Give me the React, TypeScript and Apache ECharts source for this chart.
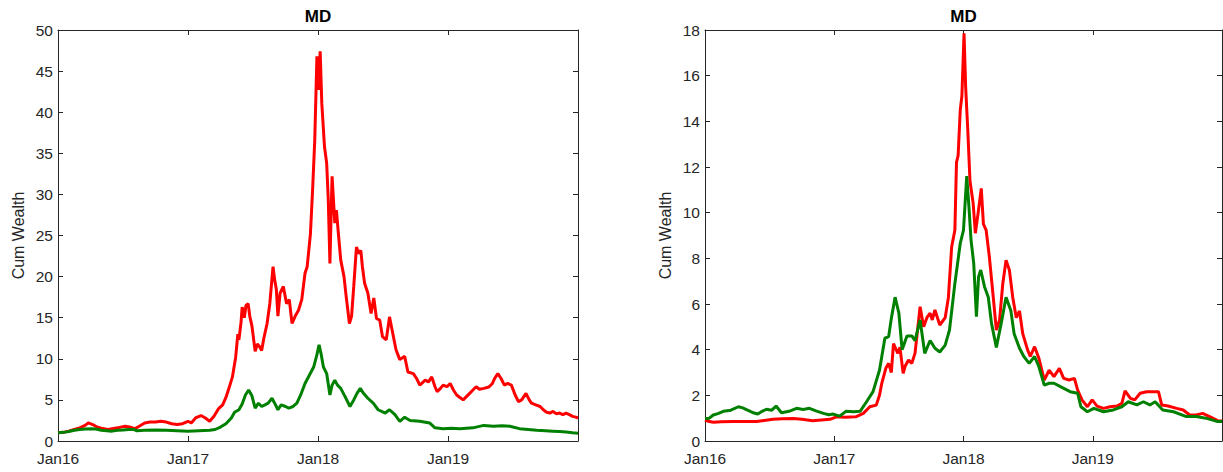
import React, { useEffect, useRef } from "react";
import * as echarts from "echarts";

// x = months since Jan 2016
const yearLabels = ["Jan16", "Jan17", "Jan18", "Jan19"];
const leftTicks = [0, 5, 10, 15, 20, 25, 30, 35, 40, 45, 50];
const rightTicks = [0, 2, 4, 6, 8, 10, 12, 14, 16, 18];

const leftRed: [number, number][] = [
  [0, 1.0], [0.5, 1.05], [1, 1.2], [1.5, 1.4], [2, 1.6], [2.5, 1.9], [2.8, 2.2], [3.2, 2.0], [3.6, 1.7], [4, 1.55],
  [4.6, 1.4], [5, 1.5], [5.5, 1.6], [6, 1.75], [6.2, 1.8], [6.6, 1.7], [7.1, 1.5], [7.5, 1.8], [8, 2.2], [8.5, 2.3],
  [9, 2.3], [9.5, 2.4], [10, 2.3], [10.5, 2.1], [11, 2.0], [11.5, 2.1], [12, 2.4], [12.3, 2.2], [12.7, 2.8], [13.2, 3.1],
  [13.6, 2.8], [14, 2.4], [14.4, 3.0], [14.8, 3.9], [15.2, 4.4], [15.5, 5.3], [15.8, 6.5], [16.1, 7.8], [16.4, 10.2],
  [16.6, 13.0], [16.7, 12.3], [16.9, 14.5], [17.0, 16.3], [17.2, 15.0], [17.35, 16.5], [17.55, 16.7], [17.7, 15.2],
  [17.9, 14.0], [18.2, 10.9], [18.4, 11.8], [18.6, 11.5], [18.8, 11.0], [19.0, 12.5], [19.3, 14.3], [19.55, 16.7],
  [19.85, 21.2], [20.0, 19.6], [20.15, 18.5], [20.3, 15.2], [20.5, 18.0], [20.8, 18.8], [21.1, 16.7], [21.35, 17.2],
  [21.6, 14.3], [21.9, 15.2], [22.2, 15.9], [22.5, 17.2], [22.8, 20.4], [23.0, 21.2], [23.3, 25.2], [23.5, 30.5],
  [23.7, 36.6], [23.9, 46.8], [24.05, 42.7], [24.2, 47.4], [24.35, 41.1], [24.6, 35.8], [24.8, 33.8], [24.95, 29.3],
  [25.1, 21.6], [25.3, 32.2], [25.55, 26.5], [25.7, 28.1], [25.85, 25.7], [26.1, 22.0], [26.4, 20.0], [26.6, 17.6],
  [26.9, 14.3], [27.1, 15.2], [27.3, 18.8], [27.55, 23.6], [27.75, 22.8], [27.95, 23.2], [28.1, 21.2], [28.3, 19.2],
  [28.6, 18.0], [28.9, 15.5], [29.15, 17.4], [29.4, 14.9], [29.7, 14.7], [29.95, 12.7], [30.3, 12.3], [30.6, 15.1],
  [30.9, 13.1], [31.2, 11.1], [31.55, 9.9], [32.0, 10.3], [32.3, 8.4], [32.8, 8.2], [33.1, 7.6], [33.4, 6.8],
  [33.9, 7.4], [34.2, 7.2], [34.5, 7.8], [34.8, 6.6], [35.0, 6.0], [35.3, 6.4], [35.55, 6.8], [35.9, 6.6], [36.2, 7.0],
  [36.5, 6.2], [36.8, 5.6], [37.1, 5.3], [37.4, 5.0], [37.7, 5.4], [38.0, 5.8], [38.3, 6.2], [38.6, 6.6], [38.9, 6.3],
  [39.3, 6.4], [39.6, 6.5], [39.8, 6.6], [40.1, 7.0], [40.3, 7.6], [40.6, 8.2], [40.9, 7.6], [41.2, 6.8], [41.5, 7.0],
  [41.85, 6.8], [42.2, 5.6], [42.5, 4.8], [42.8, 5.0], [43.2, 5.8], [43.5, 5.0], [43.7, 4.6], [44.1, 4.4], [44.5, 4.2],
  [44.8, 3.8], [45.1, 3.5], [45.4, 3.4], [45.7, 3.6], [46.0, 3.3], [46.3, 3.4], [46.6, 3.2], [46.9, 3.4], [47.2, 3.2],
  [47.5, 3.0], [47.8, 2.9], [48, 2.8],
];

const leftGreen: [number, number][] = [
  [0, 1.0], [0.5, 1.05], [1, 1.15], [1.5, 1.3], [2, 1.4], [2.5, 1.45], [3, 1.5], [3.5, 1.45], [4, 1.3], [4.5, 1.25],
  [5, 1.2], [5.5, 1.3], [6, 1.35], [6.5, 1.4], [7, 1.4], [7.3, 1.25], [8, 1.3], [9, 1.35], [10, 1.3], [11, 1.25],
  [12, 1.2], [13, 1.25], [14, 1.3], [14.5, 1.4], [15, 1.7], [15.5, 2.1], [16, 2.8], [16.3, 3.5], [16.7, 3.8],
  [17.0, 4.5], [17.3, 5.6], [17.6, 6.2], [17.9, 5.5], [18.2, 4.0], [18.5, 4.6], [18.8, 4.2], [19.1, 4.4], [19.4, 4.6],
  [19.75, 5.2], [20.0, 4.6], [20.3, 3.8], [20.6, 4.4], [21.0, 4.2], [21.3, 4.0], [21.7, 4.2], [22.05, 4.6], [22.4, 5.6],
  [22.8, 7.0], [23.2, 8.0], [23.6, 9.0], [23.9, 10.5], [24.1, 11.7], [24.3, 10.5], [24.5, 9.0], [24.8, 8.2],
  [25.1, 5.6], [25.3, 6.8], [25.55, 7.4], [25.8, 6.8], [26.1, 6.4], [26.5, 5.4], [26.95, 4.2], [27.3, 5.0],
  [27.6, 5.8], [27.9, 6.4], [28.2, 5.8], [28.6, 5.2], [29.1, 4.6], [29.55, 3.8], [30.2, 3.4], [30.6, 3.8],
  [31.1, 3.2], [31.55, 2.4], [32.0, 2.9], [32.5, 2.5], [33.4, 2.4], [34.3, 2.2], [34.8, 1.6], [35.55, 1.5],
  [36.3, 1.55], [37.1, 1.5], [38.3, 1.6], [39.3, 1.9], [40.2, 1.8], [41.0, 1.85], [41.7, 1.8], [42.6, 1.5],
  [43.4, 1.4], [44.2, 1.3], [45.0, 1.25], [45.7, 1.2], [46.3, 1.15], [46.9, 1.1], [47.5, 1.0], [48, 0.95],
];

const rightRed: [number, number][] = [
  [0, 0.92], [0.4, 0.85], [0.8, 0.82], [1.5, 0.84], [2.6, 0.85], [3.5, 0.85], [4.8, 0.85], [5.5, 0.9], [6.3, 0.95],
  [7.2, 0.97], [8.2, 0.99], [9.0, 0.95], [10.0, 0.89], [10.8, 0.92], [11.6, 0.95], [12.2, 1.06], [13.0, 1.04],
  [14.0, 1.06], [14.7, 1.21], [15.3, 1.5], [15.9, 1.57], [16.2, 2.0], [16.4, 2.5], [16.8, 3.2], [17.05, 3.4],
  [17.3, 3.0], [17.5, 4.27], [17.9, 3.84], [18.1, 4.1], [18.4, 2.96], [18.6, 3.3], [18.9, 3.55], [19.2, 3.4],
  [19.5, 3.85], [19.97, 5.88], [20.3, 5.0], [20.6, 5.4], [20.9, 5.6], [21.1, 5.3], [21.35, 5.74], [21.8, 5.08],
  [22.3, 5.4], [22.6, 6.3], [22.9, 8.5], [23.2, 9.24], [23.35, 12.2], [23.5, 12.5], [23.7, 14.5], [23.85, 15.1],
  [24.05, 17.86], [24.2, 15.5], [24.4, 13.6], [24.6, 11.4], [24.9, 10.4], [25.1, 9.1], [25.35, 9.96], [25.65, 11.06],
  [25.85, 9.5], [26.1, 9.24], [26.4, 8.07], [26.7, 6.61], [27.05, 4.86], [27.35, 5.3], [27.65, 6.9], [27.95, 7.92],
  [28.26, 7.49], [28.57, 6.3], [28.9, 5.4], [29.2, 5.7], [29.5, 4.7], [29.95, 3.99], [30.2, 3.7], [30.6, 4.13],
  [31.0, 3.62], [31.5, 2.67], [31.95, 3.1], [32.4, 2.82], [32.9, 3.18], [33.3, 2.74], [33.8, 2.67], [34.3, 2.74],
  [34.6, 2.23], [35.0, 1.8], [35.5, 1.5], [35.95, 1.8], [36.4, 1.53], [37.0, 1.43], [37.6, 1.5], [38.25, 1.53],
  [38.7, 1.65], [39.0, 2.2], [39.5, 1.87], [39.9, 1.8], [40.4, 2.09], [41.0, 2.16], [41.6, 2.16], [42.1, 2.16],
  [42.4, 1.58], [43.0, 1.53], [43.8, 1.43], [44.4, 1.36], [45.0, 1.14], [45.6, 1.14], [46.2, 1.21], [46.85, 1.07],
  [47.6, 0.89], [48, 0.88],
];

const rightGreen: [number, number][] = [
  [0, 0.99], [0.4, 1.0], [0.77, 1.14], [1.2, 1.2], [1.7, 1.3], [2.4, 1.35], [3.1, 1.5], [3.5, 1.45], [3.9, 1.36],
  [4.4, 1.25], [4.9, 1.18], [5.3, 1.3], [5.7, 1.39], [6.2, 1.35], [6.6, 1.53], [7.1, 1.24], [7.8, 1.3], [8.5, 1.43],
  [9.1, 1.38], [9.7, 1.43], [10.3, 1.32], [11.0, 1.21], [11.5, 1.15], [11.9, 1.18], [12.5, 1.09], [13.1, 1.3],
  [13.8, 1.28], [14.4, 1.3], [15.0, 1.72], [15.6, 2.16], [16.2, 3.1], [16.7, 4.5], [17.05, 4.57], [17.3, 5.37],
  [17.65, 6.3], [17.8, 6.0], [18.0, 5.6], [18.3, 4.0], [18.75, 4.6], [19.2, 4.6], [19.5, 4.4], [19.97, 5.3],
  [20.4, 3.84], [20.9, 4.4], [21.35, 4.06], [21.8, 3.9], [22.3, 4.2], [22.7, 4.86], [23.2, 6.9], [23.7, 8.66],
  [24.0, 9.24], [24.3, 11.6], [24.5, 10.3], [24.7, 8.8], [24.95, 7.78], [25.2, 5.44], [25.4, 7.2], [25.6, 7.49],
  [25.95, 6.76], [26.3, 6.3], [26.6, 5.15], [27.05, 4.1], [27.5, 5.15], [27.95, 6.3], [28.4, 5.7], [28.7, 4.7],
  [29.2, 4.06], [29.6, 3.7], [30.1, 3.4], [30.6, 3.7], [31.0, 3.25], [31.5, 2.45], [31.95, 2.53], [32.4, 2.53],
  [33.0, 2.38], [33.9, 2.16], [34.6, 2.09], [34.9, 1.5], [35.5, 1.28], [36.1, 1.43], [37.0, 1.28], [37.9, 1.36],
  [38.7, 1.5], [39.3, 1.72], [40.1, 1.58], [40.7, 1.72], [41.3, 1.58], [41.8, 1.72], [42.5, 1.36], [43.5, 1.28],
  [44.7, 1.07], [45.6, 1.07], [46.5, 1.0], [47.6, 0.85], [48, 0.85],
];

const titles = ["MD", "MD"];
const yName = "Cum Wealth";

const AXIS = "#262626";
const FONT = "'Liberation Sans', Arial, Helvetica, sans-serif";

export default function App() {
  const ref = useRef<HTMLDivElement>(null);
  useEffect(() => {
    document.body.style.margin = "0";
    if (!ref.current) return;
    const chart = echarts.init(ref.current, undefined, { renderer: "svg" });

    const grids = [
      { left: 58, top: 30, width: 520, height: 411 },
      { left: 705, top: 30, width: 517, height: 411 },
    ];
    const ymax = [leftTicks[leftTicks.length - 1], rightTicks[rightTicks.length - 1]];
    const yint = [leftTicks[1] - leftTicks[0], rightTicks[1] - rightTicks[0]];

    const xAxes: any[] = [];
    const yAxes: any[] = [];
    grids.forEach((_, gi) => {
      ["bottom", "top"].forEach((pos) => {
        xAxes.push({
          type: "value",
          gridIndex: gi,
          position: pos,
          min: 0,
          max: 48,
          interval: 12,
          axisLine: { show: true, onZero: false, lineStyle: { color: AXIS, width: 1 } },
          axisTick: { show: true, inside: true, length: 5, lineStyle: { color: AXIS } },
          splitLine: { show: false },
          axisLabel: {
            show: pos === "bottom",
            color: AXIS,
            fontSize: 15.5,
            fontFamily: FONT,
            margin: 9,
            showMaxLabel: false,
            formatter: (v: number) => (v < 48 ? yearLabels[Math.round(v / 12)] : ""),
          },
        });
      });
      ["left", "right"].forEach((pos) => {
        yAxes.push({
          type: "value",
          gridIndex: gi,
          position: pos,
          min: 0,
          max: ymax[gi],
          interval: yint[gi],
          name: pos === "left" ? yName : "",
          nameLocation: "middle",
          nameGap: 32,
          nameTextStyle: { color: AXIS, fontSize: 16, fontFamily: FONT },
          axisLine: { show: true, onZero: false, lineStyle: { color: AXIS, width: 1 } },
          axisTick: { show: true, inside: true, length: 5, lineStyle: { color: AXIS } },
          splitLine: { show: false },
          axisLabel: {
            show: pos === "left",
            color: AXIS,
            fontSize: 15.5,
            fontFamily: FONT,
            margin: 5,
          },
        });
      });
    });

    const mk = (data: [number, number][], gi: number, color: string) => ({
      type: "line",
      xAxisIndex: gi * 2,
      yAxisIndex: gi * 2,
      data,
      showSymbol: false,
      symbol: "none",
      lineStyle: { color, width: 3 },
      itemStyle: { color },
      silent: true,
    });

    chart.setOption({
      animation: false,
      grid: grids,
      xAxis: xAxes,
      yAxis: yAxes,
      series: [
        mk(leftRed, 0, "#ff0000"),
        mk(leftGreen, 0, "#008000"),
        mk(rightRed, 1, "#ff0000"),
        mk(rightGreen, 1, "#008000"),
      ],
      graphic: grids.map((g, i) => ({
        type: "text",
        x: g.left + g.width / 2,
        y: 16,
        style: {
          text: titles[i],
          textAlign: "center",
          textVerticalAlign: "middle",
          fill: "#000",
          font: `bold 17px ${FONT}`,
        },
      })),
    });
    return () => chart.dispose();
  }, []);
  return <div ref={ref} style={{ width: 1223, height: 472 }} />;
}
